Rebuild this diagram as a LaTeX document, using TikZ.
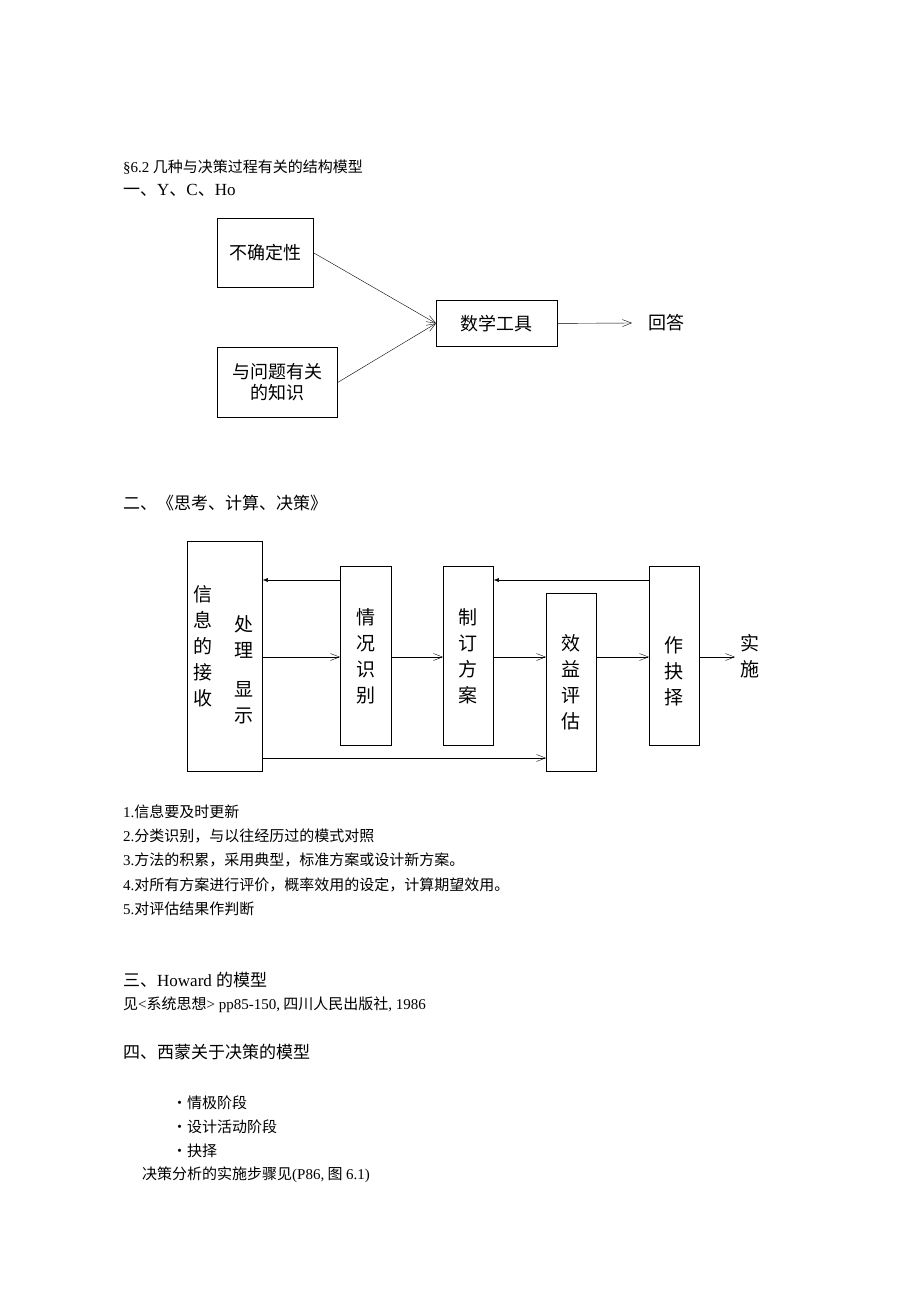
\documentclass[tikz,border=0pt]{standalone}
\usepackage{fontspec}
\setmainfont{Noto Sans CJK SC}
\newfontfamily\tnr{Liberation Serif}
\usetikzlibrary{arrows.meta,positioning}
\begin{document}
\begin{tikzpicture}[x=1pt,y=-1pt,
box/.style={draw=black, thick, inner sep=0pt, anchor=north west},
txt/.style={anchor=west, inner sep=0pt, font=\fontsize{15}{18}\selectfont},
big/.style={anchor=west, inner sep=0pt, font=\fontsize{17}{20}\selectfont},
lbl/.style={font=\fontsize{18}{21}\selectfont, align=center, inner sep=0pt},
col/.style={font=\fontsize{19}{26}\selectfont, align=center, inner sep=0pt},
fwd/.style={-{Straight Barb[length=9pt,width=7pt]}},
back/.style={-{Latex[length=5pt,width=4pt]}},
]
\useasboundingbox (0,0) rectangle (920,1302);
% headings
\node[txt] (h1) at (123,167) {{\tnr §6.2} 几种与决策过程有关的结构模型};
\node[big] (h2) at (123,190) {一、{\tnr Y}、{\tnr C}、{\tnr Ho}};
% Y C Ho
\node[box, minimum width=96pt, minimum height=69pt] (unc) at (217,218) {};
\node[lbl] at (unc.center) {不确定性};
\node[box, minimum width=120pt, minimum height=70pt] (know) at (217,347) {};
\node[lbl] at (know.center) {与问题有关\\的知识};
\node[box, minimum width=121pt, minimum height=46pt] (math) at (436,300) {};
\node[lbl] at (math.center) {数学工具};
\node[lbl, anchor=west] (ans) at (648,323) {回答};
\coordinate (ansin) at (632,323);
\draw[fwd] (unc.east) -- (math.west);
\draw[fwd] (know.east) -- (math.west);
\draw[fwd] (math.east) -- (ansin);
% second model
\node[big] (h3) at (123,503) {二、《思考、计算、决策》};
\node[box, minimum width=75pt, minimum height=230pt] (info) at (187,541) {};
\node[col] at (203,646) {信\\息\\的\\接\\收};
\node[col] at (244,637) {处\\理};
\node[col] at (244,703) {显\\示};
\node[box, minimum width=51pt, minimum height=179pt] (sit) at (340,566) {};
\node[col] at (sit.center) {情\\况\\识\\别};
\node[box, minimum width=50pt, minimum height=179pt] (plan) at (443,566) {};
\node[col] at (plan.center) {制\\订\\方\\案};
\node[box, minimum width=50pt, minimum height=178pt] (eval) at (546,593) {};
\node[col] at (eval.center) {效\\益\\评\\估};
\node[box, minimum width=50pt, minimum height=179pt] (dec) at (649,566) {};
\node[col] at ([yshift=-15pt]dec.center) {作\\抉\\择};
\node[col] (impl) at (750,656) {实\\施};
\coordinate (implin) at (735,657);
\draw[fwd] (info.east |- 0,657) -- (sit.west |- 0,657);
\draw[fwd] (sit.east |- 0,657) -- (plan.west |- 0,657);
\draw[fwd] (plan.east |- 0,657) -- (eval.west |- 0,657);
\draw[fwd] (eval.east |- 0,657) -- (dec.west |- 0,657);
\draw[fwd] (dec.east |- 0,657) -- (implin);
\draw[fwd] (info.east |- 0,758) -- (eval.west |- 0,758);
\draw[back] (sit.west |- 0,580) -- (info.east |- 0,580);
\draw[back] (dec.west |- 0,580) -- (plan.east |- 0,580);
% notes
\node[txt] (n1) at (123,812) {{\tnr 1.}信息要及时更新};
\node[txt] (n2) at (123,836) {{\tnr 2.}分类识别，与以往经历过的模式对照};
\node[txt] (n3) at (123,860) {{\tnr 3.}方法的积累，采用典型，标准方案或设计新方案。};
\node[txt] (n4) at (123,885) {{\tnr 4.}对所有方案进行评价，概率效用的设定，计算期望效用。};
\node[txt] (n5) at (123,909) {{\tnr 5.}对评估结果作判断};
\node[big] (h4) at (123,980) {三、{\tnr Howard }的模型};
\node[txt] (ref) at (123,1005) {见{\tnr <}系统思想{\tnr > pp85-150,} 四川人民出版社{\tnr , 1986}};
\node[big] (h5) at (123,1052) {四、西蒙关于决策的模型};
\node[txt] (s1) at (172,1103) {·情极阶段};
\node[txt] (s2) at (172,1127) {·设计活动阶段};
\node[txt] (s3) at (172,1151) {·抉择};
\node[txt] (s4) at (142,1175) {决策分析的实施步骤见{\tnr (P86,} 图 {\tnr 6.1)}};
\end{tikzpicture}
\end{document}
